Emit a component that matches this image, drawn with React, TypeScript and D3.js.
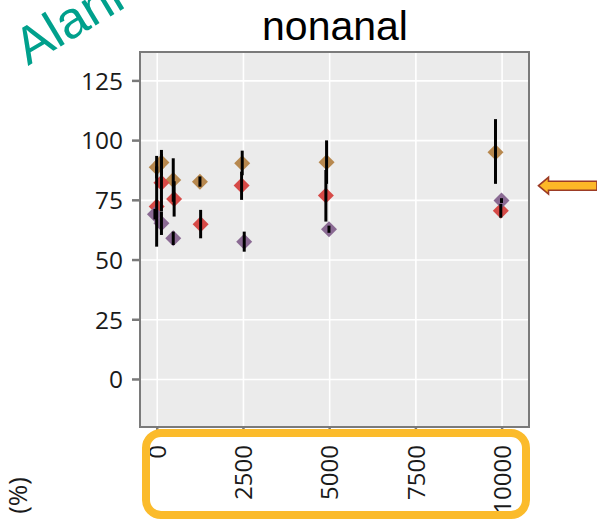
import React from "react";
import * as d3 from "d3";

// Concentration (jittered dose) and response (%) with error-bar bounds per series
const tanDose = [-17, 122, 464, 1238, 2464, 4910, 9809];
const tanMean = [88.9, 90.8, 83.5, 82.8, 90.5, 90.9, 95.1];
const tanLow = [84.2, 85.5, 74.4, 80.7, 85.5, 81.9, 81.9];
const tanHigh = [93.6, 96.1, 92.6, 85.0, 95.8, 100.1, 109.0];

const redDose = [-17, 122, 490, 1258, 2446, 4890, 9962];
const redMean = [72.4, 82.4, 75.6, 65.0, 81.2, 77.0, 70.6];
const redLow = [55.6, 70.4, 68.2, 59.1, 75.2, 66.1, 67.7];
const redHigh = [89.2, 94.4, 83.0, 71.0, 87.0, 87.7, 73.5];

const purpleDose = [-67, 122, 464, 2522, 4980, 9983];
const purpleMean = [69.2, 65.4, 59.1, 57.7, 62.9, 74.9];
const purpleLow = [67.0, 60.5, 56.3, 53.5, 61.4, 73.9];
const purpleHigh = [71.4, 70.3, 61.9, 61.9, 64.4, 75.9];

const xTicks = [0, 2500, 5000, 7500, 10000];
const yTicks = [0, 25, 50, 75, 100, 125];

const title = "nonanal";

type Pt = { dose: number; mean: number; lo: number; hi: number; color: string };

function build(dose: number[], mean: number[], lo: number[], hi: number[], color: string): Pt[] {
  return dose.map((d, i) => ({ dose: d, mean: mean[i], lo: lo[i], hi: hi[i], color }));
}

const points: Pt[] = [
  ...build(tanDose, tanMean, tanLow, tanHigh, "#B7884E"),
  ...build(redDose, redMean, redLow, redHigh, "#D64A47"),
  ...build(purpleDose, purpleMean, purpleLow, purpleHigh, "#8A6A93"),
];

const W = 597;
const H = 519;
const panel = { left: 140, right: 529, top: 52, bottom: 427 };

export default function App() {
  const x = d3.scaleLinear().domain([-500, 10780]).range([panel.left, panel.right]);
  const y = d3.scaleLinear().domain([-19.9, 137.1]).range([panel.bottom, panel.top]);
  const diamond = d3.symbol(d3.symbolSquare, 128)()!;
  const font = "'Open Sans', 'DejaVu Sans', sans-serif";

  return (
    <svg width={W} height={H} style={{ position: "absolute", left: 0, top: 0, background: "#fff" }}>
      {/* slide annotations */}
      <text
        transform="translate(28,66) rotate(-31)"
        fontFamily="'Liberation Sans', Arial, sans-serif"
        fontSize={52}
        fill="#00A08C"
      >
        Alani
      </text>
      <text
        x={335}
        y={40}
        textAnchor="middle"
        fontFamily="'Liberation Sans', Arial, sans-serif"
        fontSize={41}
        fill="#000"
      >
        {title}
      </text>

      {/* panel */}
      <rect x={panel.left} y={panel.top} width={panel.right - panel.left} height={panel.bottom - panel.top} fill="#EBEBEB" />
      {yTicks.map((t) => (
        <line key={"gy" + t} x1={panel.left} x2={panel.right} y1={y(t)} y2={y(t)} stroke="#fff" strokeWidth={1.6} />
      ))}
      {xTicks.map((t) => (
        <line key={"gx" + t} x1={x(t)} x2={x(t)} y1={panel.top} y2={panel.bottom} stroke="#fff" strokeWidth={1.6} />
      ))}

      {points.map((p, i) => (
        <path
          key={"pt" + i}
          d={diamond}
          transform={`translate(${x(p.dose)},${y(p.mean)}) rotate(45)`}
          fill={p.color}
        />
      ))}
      {points.map((p, i) => (
        <line
          key={"eb" + i}
          x1={x(p.dose)}
          x2={x(p.dose)}
          y1={y(p.lo)}
          y2={y(p.hi)}
          stroke="#000"
          strokeWidth={3}
        />
      ))}

      <rect
        x={panel.left}
        y={panel.top}
        width={panel.right - panel.left}
        height={panel.bottom - panel.top}
        fill="none"
        stroke="#7A7A7A"
        strokeWidth={2}
      />

      {/* y axis */}
      {yTicks.map((t) => (
        <g key={"yt" + t}>
          <line x1={panel.left - 8} x2={panel.left} y1={y(t)} y2={y(t)} stroke="#7A7A7A" strokeWidth={2.5} />
          <text x={123} y={y(t)} dy="0.36em" textAnchor="end" fontFamily={font} fontSize={24.5} fill="#1a1a1a">
            {t}
          </text>
        </g>
      ))}

      {/* x axis */}
      {xTicks.map((t) => (
        <g key={"xt" + t}>
          <line x1={x(t)} x2={x(t)} y1={panel.bottom} y2={panel.bottom + 6} stroke="#7A7A7A" strokeWidth={2.5} />
          <text
            transform={`translate(${x(t)},445) rotate(-90)`}
            dy="0.36em"
            textAnchor="end"
            fontFamily={font}
            fontSize={24}
            fill="#1a1a1a"
          >
            {t}
          </text>
        </g>
      ))}

      {/* y axis title fragment */}
      <text
        transform="translate(18,477) rotate(-90)"
        dy="0.36em"
        textAnchor="end"
        fontFamily={font}
        fontSize={26}
        fill="#1a1a1a"
      >
        (%)
      </text>

      {/* highlight box round the dose labels */}
      <rect x={146} y={433} width={380} height={82} rx={15} fill="none" stroke="#FBBB2B" strokeWidth={8} />

      {/* pointer arrow */}
      <path
        d="M538.5,185.7 L548.5,177.3 L548.5,181.2 L597,181.2 L597,190.2 L548.5,190.2 L548.5,194 Z"
        fill="#FDB827"
        stroke="#9C3B25"
        strokeWidth={1.6}
        strokeLinejoin="miter"
      />
    </svg>
  );
}
